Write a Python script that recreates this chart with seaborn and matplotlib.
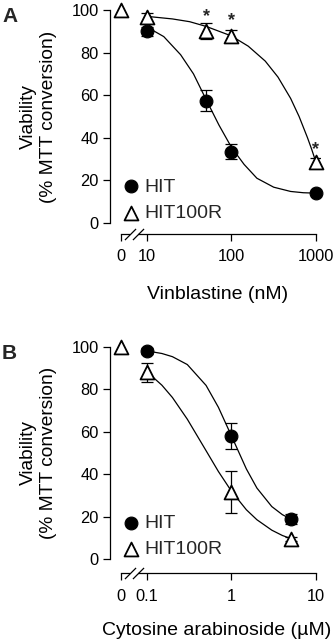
import numpy as np
import pandas as pd
import matplotlib
matplotlib.use("Agg")
import matplotlib.pyplot as plt
import seaborn as sns
from matplotlib.path import Path
from matplotlib.transforms import ScaledTranslation

# Panel A: vinblastine (nM)
vin_dose = [0, 10, 50, 100, 1000]
vin_hit = [100, 90, 57.5, 33.5, 14]
vin_hit_err = [0, 2, 4.7, 3.4, 1]
vin_res = [100, 96.5, 90.3, 88, 28.5]
vin_res_err = [0, 2, 3.7, 2.5, 2]
vin_star_dose = [50, 100, 1000]
vin_star_y = [97, 95, 34.5]
vin_fit_hit_x = [10, 15.8, 25, 35.5, 50, 71, 100, 141, 200, 316, 501, 708, 1000]
vin_fit_hit = [92, 87.5, 79, 70, 58, 46, 35.5, 27.5, 21, 16.8, 14.8, 14.2, 14]
vin_fit_res_x = [10, 20, 32, 50, 100, 158, 251, 355, 501, 631, 794, 891, 1000]
vin_fit_res = [97, 95.8, 94.5, 92.3, 87.8, 83, 76, 68.5, 58.5, 50, 40, 34.5, 28.5]

# Panel B: cytosine arabinoside (uM)
ara_dose = [0, 0.1, 1, 5]
ara_hit = [100, 98, 58, 19]
ara_hit_err = [0, 1.5, 6.3, 2.5]
ara_res = [100, 88, 31.5, 9.5]
ara_res_err = [0, 4.5, 9.8, 1]
ara_fit_x = [0.1, 0.15, 0.2, 0.3, 0.5, 0.7, 1, 1.5, 2, 3, 4, 5]
ara_fit_hit = [98, 96.8, 95.3, 91.6, 81.8, 71.5, 58, 42.5, 33.5, 24.8, 21, 19]
ara_fit_res = [88.2, 81.9, 76.1, 65.9, 51.1, 41.3, 32, 23.3, 18.6, 13.7, 11.2, 9.8]

y_ticks = [0, 20, 40, 60, 80, 100]

sns.set_theme(style="ticks")
plt.rcParams["font.family"] = ["Liberation Sans", "DejaVu Sans"]
plt.rcParams["axes.linewidth"] = 0.9


def draw_panel(fig, rect, x10, dose, hit, hit_err, res, res_err,
               fit_hit_x, fit_hit, fit_res_x, fit_res, xticklabels, xlabel,
               offset_px, stars=None):
    ax = fig.add_axes(rect)
    x0 = x10 * 0.4924  # position used for the zero-dose control
    xs = [x0 if d == 0 else d for d in dose]

    sns.lineplot(x=fit_hit_x, y=fit_hit, ax=ax, color="black", lw=0.9,
                 estimator=None, sort=False)
    sns.lineplot(x=fit_res_x, y=fit_res, ax=ax, color="black", lw=0.9,
                 estimator=None, sort=False)

    ax.errorbar(xs[1:], hit[1:], yerr=hit_err[1:], fmt="none", ecolor="black",
                elinewidth=0.9, capsize=4.5, capthick=0.9, zorder=3)
    ax.errorbar(xs[1:], res[1:], yerr=res_err[1:], fmt="none", ecolor="black",
                elinewidth=0.9, capsize=4.5, capthick=0.9, zorder=3)

    sns.scatterplot(x=xs[1:], y=hit[1:], ax=ax, marker="o", s=85, color="black",
                    edgecolor="black", linewidth=0.8, zorder=4, clip_on=False,
                    label="HIT")
    sns.scatterplot(x=xs, y=res, ax=ax, marker="^", s=100, color="white",
                    edgecolor="black", linewidth=1.3, zorder=5, clip_on=False,
                    label="HIT100R")

    if stars is not None:
        for sx, sy in zip(*stars):
            ax.text(sx, sy, "*", ha="center", va="center", fontsize=13,
                    fontweight="bold")

    ax.set_xscale("log")
    ax.set_xlim(x10 * 0.3648, x10 * 111.5)
    ax.set_ylim(0, 100)
    ax.set_xticks([x0, x10, x10 * 10, x10 * 100])
    ax.set_xticklabels(xticklabels)
    ax.xaxis.set_minor_locator(matplotlib.ticker.NullLocator())
    ax.set_yticks(y_ticks)
    ax.set_yticklabels([str(v) for v in y_ticks])
    ax.tick_params(axis="both", direction="out", length=5, width=0.9,
                   labelsize=11.8, color="black", labelcolor="black")
    ax.tick_params(axis="x", pad=6)
    ax.tick_params(axis="y", pad=3)

    sns.despine(ax=ax)
    ax.spines["bottom"].set_position(("outward", offset_px * 0.72))
    ax.spines["bottom"].set_bounds(x0, x10 * 100)
    ax.spines["left"].set_bounds(0, 100)
    for s in ["left", "bottom"]:
        ax.spines[s].set_color("black")

    # axis break marks
    tr = ax.get_xaxis_transform() + ScaledTranslation(0, -offset_px / 100.0,
                                                       fig.dpi_scale_trans)
    brk = [x10 * 0.629, x10 * 0.783]
    ax.plot(brk, [0, 0], color="white", lw=3, transform=tr, clip_on=False,
            zorder=6, solid_capstyle="butt")
    slash = Path([(-1, -1), (1, 1)], [Path.MOVETO, Path.LINETO])
    ax.plot(brk, [0, 0], ls="none", marker=slash, ms=8, mew=0.9,
            color="black", transform=tr, clip_on=False, zorder=7)

    ax.set_ylabel("Viability\n(% MTT conversion)", fontsize=13.8,
                  color="black", linespacing=1.25)
    ax.yaxis.set_label_coords(-0.25, 0.5)
    ax.set_xlabel(xlabel, fontsize=14, color="black")
    ax.xaxis.set_label_coords(0.51, -0.295)

    ax.legend(loc="lower left", bbox_to_anchor=(0.055, 0.005), frameon=False,
              fontsize=14, handlelength=1.0, handletextpad=0.15,
              labelspacing=0.45, borderpad=0, borderaxespad=0)
    return ax


fig = plt.figure(figsize=(3.34, 6.4), dpi=100)

draw_panel(fig, [0.3293, 0.6516, 0.6287, 0.3328], 10, vin_dose, vin_hit,
           vin_hit_err, vin_res, vin_res_err, vin_fit_hit_x, vin_fit_hit,
           vin_fit_res_x, vin_fit_res, ["0", "10", "100", "1000"],
           "Vinblastine (nM)", 11, stars=(vin_star_dose, vin_star_y))

draw_panel(fig, [0.3293, 0.1261, 0.6287, 0.3322], 0.1, ara_dose, ara_hit,
           ara_hit_err, ara_res, ara_res_err, ara_fit_x, ara_fit_hit,
           ara_fit_x, ara_fit_res, ["0", "0.1", "1", "10"],
           "Cytosine arabinoside (\u00b5M)", 14)

fig.text(0.006, 1 - 22 / 640, "A", fontsize=15, fontweight="bold",
         ha="left", va="baseline")
fig.text(0.006, 1 - 359 / 640, "B", fontsize=15, fontweight="bold",
         ha="left", va="baseline")

fig.savefig("out.png", dpi=100)
